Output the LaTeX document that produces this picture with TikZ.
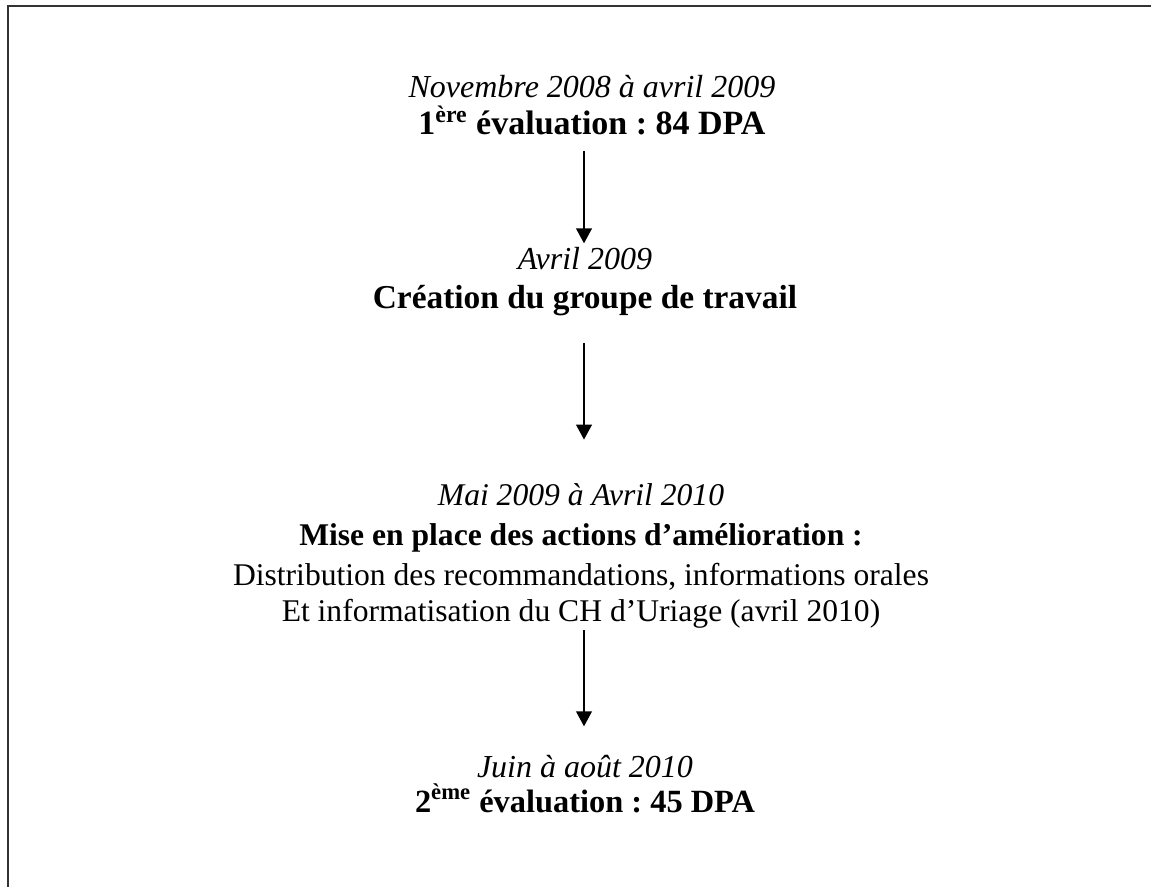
\documentclass[tikz,border=0pt]{standalone}
\usepackage{fontspec}
\setmainfont{Liberation Serif}
\usetikzlibrary{arrows.meta,positioning}
\frenchspacing

\begin{document}
\begin{tikzpicture}[x=0.5pt,y=-0.5pt]
\tikzset{etape/.style=
            {align=center,inner sep=0pt,anchor=base},
         fleche/.style=
            {line width=1.1pt,-{Triangle[length=7.5pt,width=7.8pt]}},
         cadre/.style=
            {line width=1pt,draw=black!80}}
\useasboundingbox (0,0) rectangle (1151,887);
\draw[cadre] (8,887) -- (8,6) -- (1151,6);
\node[etape,font=\fontsize{16}{14.5}\selectfont] (eval1) at (592,135)
    {\textit{Novembre 2008 à avril 2009}\\[3pt]
     {\fontsize{17}{17}\selectfont\bfseries 1\textsuperscript{ère} évaluation : 84 DPA}};
\node[etape,font=\fontsize{16}{19.5}\selectfont] (groupe) at (585,309)
    {\textit{Avril 2009}\\
     {\fontsize{16.7}{17}\selectfont\bfseries Création du groupe de travail}};
\node[etape,font=\fontsize{15.8}{20}\selectfont] (actions) at (581,621)
    {\textit{Mai 2009 à Avril 2010}\\
     \textbf{Mise en place des actions d’amélioration :}\\
     Distribution des recommandations, informations orales\\[-2pt]
     Et informatisation du CH d’Uriage (avril 2010)};
\node[etape,font=\fontsize{16}{14.5}\selectfont] (eval2) at (585,812)
    {\textit{Juin à août 2010}\\[3pt]
     {\fontsize{16.2}{16.2}\selectfont\bfseries 2\textsuperscript{ème} évaluation : 45 DPA}};
\draw[fleche,shorten <=7.5pt,shorten >=2pt] (eval1.south -| 584,0) -- (groupe.north -| 584,0);
\draw[fleche,shorten <=13pt,shorten >=21.5pt] (groupe.south -| 584,0) -- (actions.north -| 584,0);
\draw[fleche,shorten <=1pt,shorten >=14pt] (actions.south -| 584,0) -- (eval2.north -| 584,0);
\end{tikzpicture}
\end{document}
